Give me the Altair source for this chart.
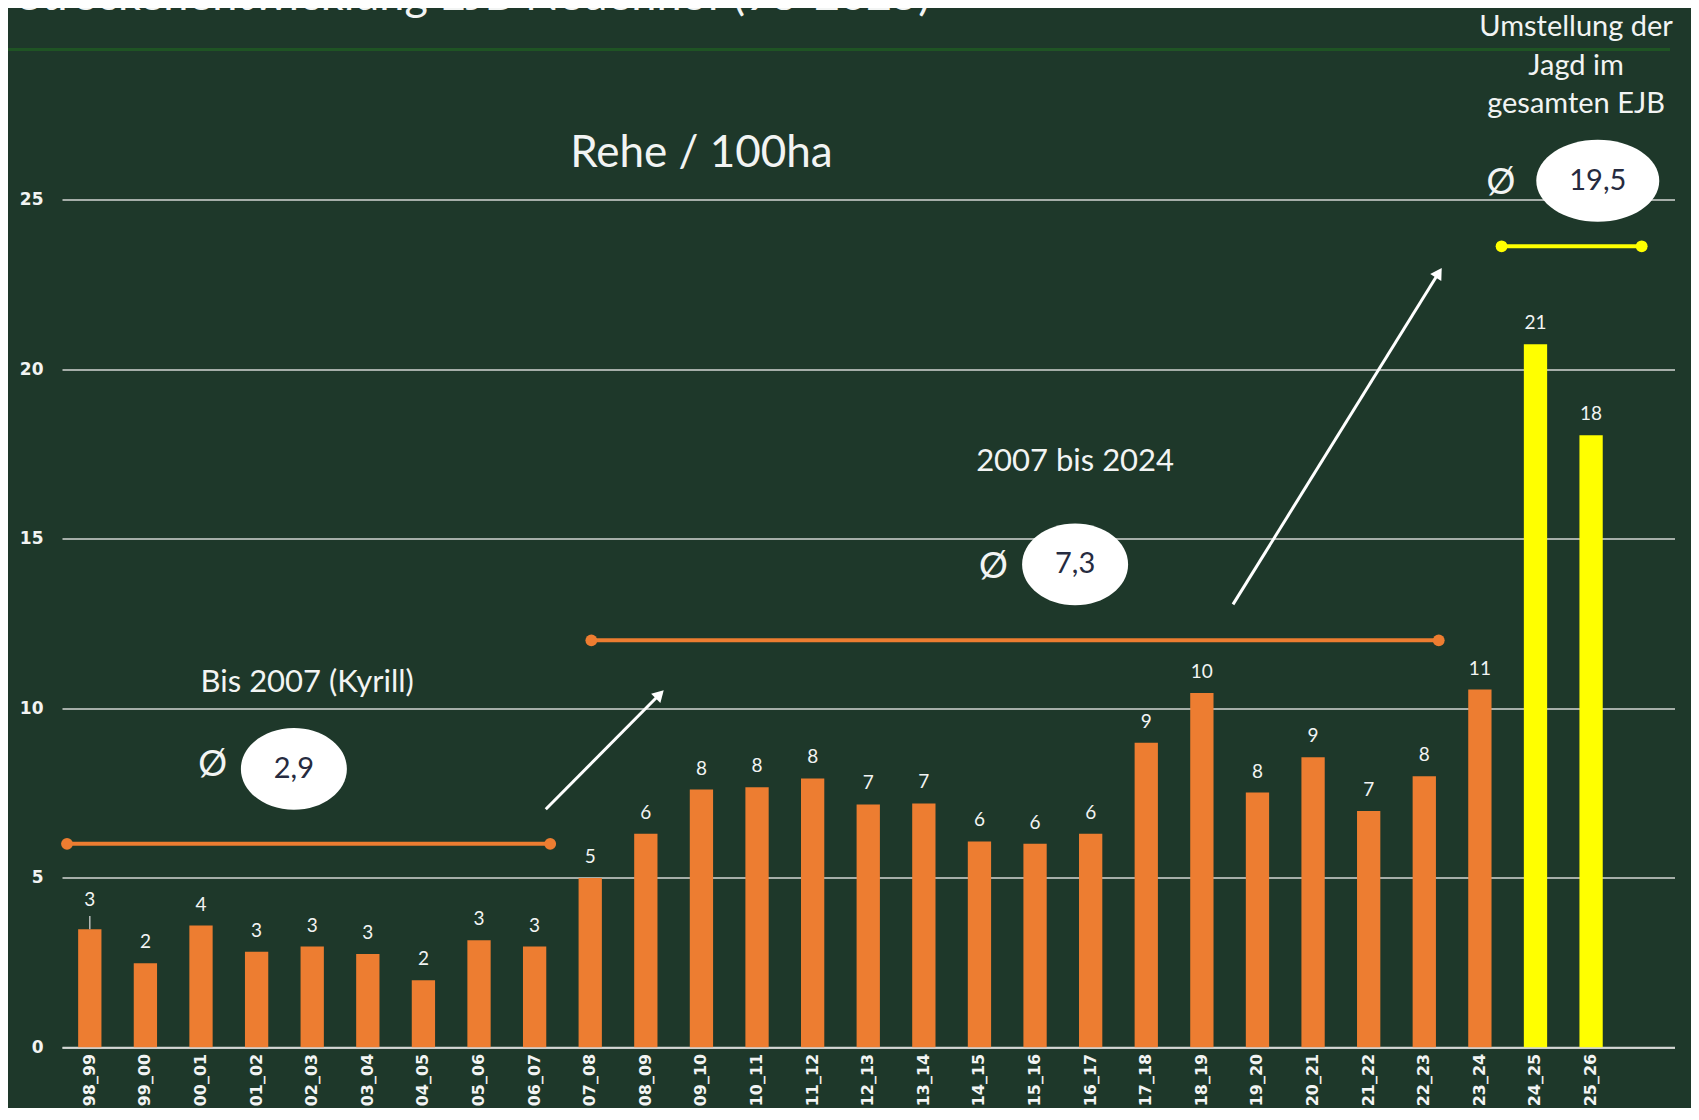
import altair as alt
import pandas as pd

# ---------------- data ----------------
seasons = ["98_99", "99_00", "00_01", "01_02", "02_03", "03_04", "04_05", "05_06",
           "06_07", "07_08", "08_09", "09_10", "10_11", "11_12", "12_13", "13_14",
           "14_15", "15_16", "16_17", "17_18", "18_19", "19_20", "20_21", "21_22",
           "22_23", "23_24", "24_25", "25_26"]
rehe_per_100ha = [3.48, 2.48, 3.59, 2.82, 2.97, 2.75, 1.98, 3.16,
                  2.97, 4.99, 6.30, 7.60, 7.67, 7.93, 7.16, 7.19,
                  6.07, 6.00, 6.30, 8.98, 10.45, 7.51, 8.55, 6.97,
                  7.99, 10.55, 20.73, 18.05]
highlight = ["24_25", "25_26"]
leader_seasons = ["98_99"]
y_ticks = [0, 5, 10, 15, 20, 25]

title_text = "Streckenentwicklung EJB Neuenhof (98-2025)"
subtitle_text = "Rehe / 100ha"

# averages (label, value text) and their period markers, in category-index units
avg_labels = ["2,9", "7,3"]
avg_centers_x = [3.67, 17.72]
avg_centers_y = [8.21, 14.24]
avg_new_label = ["19,5"]
avg_new_x = [27.12]
avg_new_y = [25.55]
phi_x = [2.21, 16.25, 25.38]
phi_y = [8.33, 14.17, 25.5]
period_start = [-0.41, 9.02, 25.39]
period_end = [8.28, 24.26, 27.91]
period_level = [6.0, 12.0, 23.62]
period_kind = ["orange", "orange", "yellow"]

period_titles = ["Bis 2007 (Kyrill)", "2007 bis 2024"]
period_title_x = [3.91, 17.72]
period_title_y = [10.49, 16.98]

umst_lines = ["Umstellung der", "Jagd im", "gesamten EJB"]
umst_x = [26.73, 26.73, 26.73]
umst_y = [29.82, 28.67, 27.55]

arrow_from_x = [8.20, 20.56]
arrow_from_y = [7.02, 13.06]
arrow_to_x = [10.25, 24.26]
arrow_to_y = [10.41, 22.84]

# ---------------- styling ----------------
BG = "#1e382a"
ORANGE = "#ed7d31"
YELLOW = "#ffff00"
TXT = "#f2f4f3"
GRID = "#d4d6d4"
FONT = "Lato"
AXFONT = "DejaVu Sans"

W, H = 1612.5, 847.8

bars_df = pd.DataFrame({"season": seasons, "v": rehe_per_100ha})

XB = alt.Scale(type="band", domain=seasons, paddingInner=0.58, paddingOuter=0.79,
               align=0.1835)
XQ = alt.Scale(domain=[-0.5, 28.5], nice=False, zero=False)
YS = alt.Scale(domain=[0, 25], nice=False, zero=True)


def qx(f):
    return alt.X(f"{f}:Q", scale=XQ, axis=None)


def qy(f):
    return alt.Y(f"{f}:Q", scale=YS, axis=None)


def bx():
    return alt.X("season:N", scale=XB, sort=seasons, axis=None, bandPosition=0.5)


bars = alt.Chart(bars_df).mark_bar(size=23.3).encode(
    x=alt.X("season:N", scale=XB, sort=seasons,
            axis=alt.Axis(title=None, labelAngle=270, labelPadding=6, ticks=False,
                          domain=True, domainColor=GRID, domainWidth=2,
                          labelFont=AXFONT, labelFontSize=16, labelFontWeight="bold",
                          labelColor=TXT, grid=False)),
    y=alt.Y("v:Q", scale=YS,
            axis=alt.Axis(title=None, values=y_ticks, grid=True, gridColor=GRID,
                          gridWidth=1.5, domain=False, ticks=False, labelPadding=19,
                          labelFont=AXFONT, labelFontSize=17, labelFontWeight="bold",
                          labelColor=TXT)),
    color=alt.condition(alt.FieldOneOfPredicate(field="season", oneOf=highlight),
                        alt.value(YELLOW), alt.value(ORANGE)),
)

is_leader = alt.FieldOneOfPredicate(field="season", oneOf=leader_seasons)

bar_labels = alt.Chart(bars_df).transform_filter(~is_leader).mark_text(
    baseline="alphabetic", align="center", dy=-15, font=FONT, fontSize=19, color=TXT
).encode(x=bx(), y=qy("v"), text=alt.Text("v:Q", format=".0f"))

leader_labels = alt.Chart(bars_df).transform_filter(is_leader).mark_text(
    baseline="alphabetic", align="center", dy=-23, font=FONT, fontSize=19, color=TXT
).encode(x=bx(), y=qy("v"), text=alt.Text("v:Q", format=".0f"))

leader_lines = alt.Chart(bars_df).transform_filter(is_leader).transform_calculate(
    v2="datum.v + 0.39"
).mark_rule(color="#b8bcb9", strokeWidth=1.5).encode(x=bx(), y=qy("v"), y2="v2:Q")

# header line under the (cut off) slide title
header_df = pd.DataFrame({"x0": [-1.8], "x1": [28.42], "y": [29.42]})
header_line = alt.Chart(header_df).mark_rule(color="#1f5424", strokeWidth=3).encode(
    x=qx("x0"), x2="x1:Q", y=qy("y"))

title_df = pd.DataFrame({"x": [-1.295], "y": [30.6], "t": [title_text]})
title = alt.Chart(title_df).mark_text(
    align="left", baseline="alphabetic", font=FONT, fontSize=45, color=TXT
).encode(x=qx("x"), y=qy("y"), text="t:N")

sub_df = pd.DataFrame({"x": [11.0], "y": [25.96], "t": [subtitle_text]})
subtitle = alt.Chart(sub_df).mark_text(
    align="center", baseline="alphabetic", font=FONT, fontSize=44, color=TXT
).encode(x=qx("x"), y=qy("y"), text="t:N")

pt_df = pd.DataFrame({"x": period_title_x, "y": period_title_y, "t": period_titles})
period_text = alt.Chart(pt_df).mark_text(
    align="center", baseline="alphabetic", font=FONT, fontSize=31, color=TXT
).encode(x=qx("x"), y=qy("y"), text="t:N")

um_df = pd.DataFrame({"x": umst_x, "y": umst_y, "t": umst_lines})
umst = alt.Chart(um_df).mark_text(
    align="center", baseline="alphabetic", font=FONT, fontSize=29, color=TXT
).encode(x=qx("x"), y=qy("y"), text="t:N")

per_df = pd.DataFrame({"x0": period_start, "x1": period_end, "y": period_level,
                       "k": period_kind})
per_color = alt.Color("k:N", scale=alt.Scale(domain=["orange", "yellow"],
                                             range=[ORANGE, YELLOW]), legend=None)
per_lines = alt.Chart(per_df).mark_rule(strokeWidth=4).encode(
    x=qx("x0"), x2="x1:Q", y=qy("y"), color=per_color)
per_dots_a = alt.Chart(per_df).mark_point(filled=True, opacity=1, size=140, shape="circle").encode(
    x=qx("x0"), y=qy("y"), color=per_color)
per_dots_b = alt.Chart(per_df).mark_point(filled=True, opacity=1, size=140, shape="circle").encode(
    x=qx("x1"), y=qy("y"), color=per_color)

ELLIPSE_A = "M -1 0 A 1 0.77 0 1 0 1 0 A 1 0.77 0 1 0 -1 0 Z"
ELLIPSE_B = "M -1 0 A 1 0.667 0 1 0 1 0 A 1 0.667 0 1 0 -1 0 Z"
avg_df = pd.DataFrame({"x": avg_centers_x, "y": avg_centers_y, "t": avg_labels})
new_df = pd.DataFrame({"x": avg_new_x, "y": avg_new_y, "t": avg_new_label})
ellipses = alt.Chart(avg_df).mark_point(
    shape=ELLIPSE_A, filled=True, opacity=1, color="#ffffff", size=106 * 106
).encode(x=qx("x"), y=qy("y"))
ellipse_new = alt.Chart(new_df).mark_point(
    shape=ELLIPSE_B, filled=True, opacity=1, color="#ffffff", size=123 * 123
).encode(x=qx("x"), y=qy("y"))
avg_text = alt.Chart(avg_df).mark_text(
    align="center", baseline="middle", font=FONT, fontSize=29, color="#262b40"
).encode(x=qx("x"), y=qy("y"), text="t:N")
new_text = alt.Chart(new_df).mark_text(
    align="center", baseline="middle", font=FONT, fontSize=29, color="#262b40"
).encode(x=qx("x"), y=qy("y"), text="t:N")

phi_df = pd.DataFrame({"x": phi_x, "y": phi_y, "t": ["Ø"] * len(phi_x)})
phi = alt.Chart(phi_df).mark_text(
    align="center", baseline="middle", font=FONT, fontSize=36, color=TXT
).encode(x=qx("x"), y=qy("y"), text="t:N")

arr_df = pd.DataFrame({"x0": arrow_from_x, "y0": arrow_from_y,
                       "x1": arrow_to_x, "y1": arrow_to_y})
arrow_lines = alt.Chart(arr_df).mark_rule(color="#ffffff", strokeWidth=3).encode(
    x=qx("x0"), y=qy("y0"), x2="x1:Q", y2="y1:Q")
head1 = alt.Chart(arr_df.iloc[[0]]).mark_point(
    shape="triangle-up", filled=True, opacity=1, color="#ffffff", size=170, angle=45
).encode(x=qx("x1"), y=qy("y1"))
head2 = alt.Chart(arr_df.iloc[[1]]).mark_point(
    shape="triangle-up", filled=True, opacity=1, color="#ffffff", size=170, angle=32
).encode(x=qx("x1"), y=qy("y1"))

chart = alt.layer(
    bars, bar_labels, leader_labels, leader_lines, header_line, title, subtitle,
    period_text, umst, per_lines, per_dots_a, per_dots_b, arrow_lines, head1, head2,
    ellipses, ellipse_new, avg_text, new_text, phi
).resolve_scale(
    x="independent"
).resolve_axis(
    x="independent", y="independent"
).properties(
    width=W, height=H, background=BG,
    padding={"left": 54, "top": 191.5, "right": 16.5, "bottom": 60.7},
    autosize=alt.AutoSizeParams(type="none"),
).configure_view(stroke=None)

chart.save("out.html", embed_options={"renderer": "svg", "actions": False})
